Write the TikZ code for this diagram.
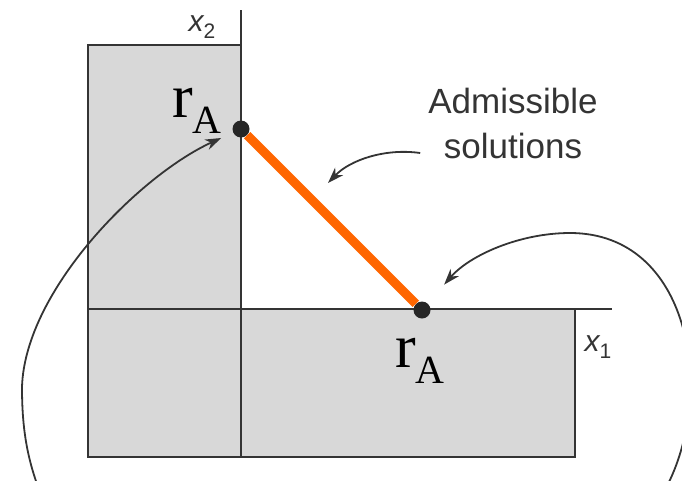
\documentclass[tikz,border=0pt]{standalone}
\usepackage{fontspec}
\setmainfont{Liberation Serif}
\setsansfont{Liberation Sans}
\usetikzlibrary{arrows.meta}
\definecolor{adorange}{RGB}{255, 102, 0}
\definecolor{adfill}{RGB}{216, 216, 216}
\definecolor{adline}{RGB}{52, 52, 52}

\begin{document}
\begin{tikzpicture}[x=1pt, y=-1pt, font=\sffamily,
  axis/.style={adline, line width=2.2pt},
  curve/.style={-{Stealth[length=16pt, width=11pt, inset=5pt]}, adline, line width=1.8pt},
  dot/.style={circle, fill=black!85, inner sep=0pt, minimum size=17pt},
  rlab/.style={inner sep=0pt, anchor=base west, font=\rmfamily}]
  \useasboundingbox (0,0) rectangle (682,480);
  \clip (0,0) rectangle (682,480);
  % feasible region and axes
  \fill[adfill] (88,45) -- (241,45) -- (241,309) -- (575,309) -- (575,457) -- (88,457) -- cycle;
  \draw[axis] (241,45) -- (88,45) -- (88,457) -- (575,457) -- (575,309);
  \draw[axis] (241,10) -- (241,458);
  \draw[axis] (88,309) -- (612,309);
  \node[adline, inner sep=0pt] (xtwo) at (202,27){{\fontsize{30}{30}\selectfont\itshape x}\raisebox{-7pt}{\fontsize{21}{21}\selectfont 2}};
  \node[adline, inner sep=0pt] (xone) at (598,347){{\fontsize{30}{30}\selectfont\itshape x}\raisebox{-7pt}{\fontsize{21}{21}\selectfont 1}};
  % end points
  \node[dot] (rAtop) at (241,129){};
  \node[dot] (rAbot) at (422,310){};
  \draw[adorange, line width=9pt] (rAtop) -- (rAbot);
  \node[rlab] (labtop) at (172,117){{\fontsize{62}{62}\selectfont r}\raisebox{-16pt}{\fontsize{40}{40}\selectfont A}};
  \node[rlab] (labbot) at (395,367){{\fontsize{62}{62}\selectfont r}\raisebox{-16pt}{\fontsize{40}{40}\selectfont A}};
  \node[adline, align=center, inner sep=0pt, font=\sffamily\fontsize{35}{45}\selectfont] (adm) at (513,123){Admissible\\solutions};
  % arrows
  \coordinate (leftend) at (37,484);
  \coordinate (rightend) at (668,484);
  \coordinate (soltip) at (328,183);
  \draw[curve, shorten >=13pt] (leftend) .. controls (25,450) and (22,420) .. (22,387) .. controls (25,290) and (140,175) .. (rAtop);
  \draw[curve, shorten >=25pt] (rightend) .. controls (715,390) and (690,233) .. (570,233) .. controls (520,233) and (470,255) .. (rAbot);
  \draw[curve] ([shift={(-8,30)}]adm.west) .. controls (385,148) and (350,160) .. (soltip);
\end{tikzpicture}
\end{document}
